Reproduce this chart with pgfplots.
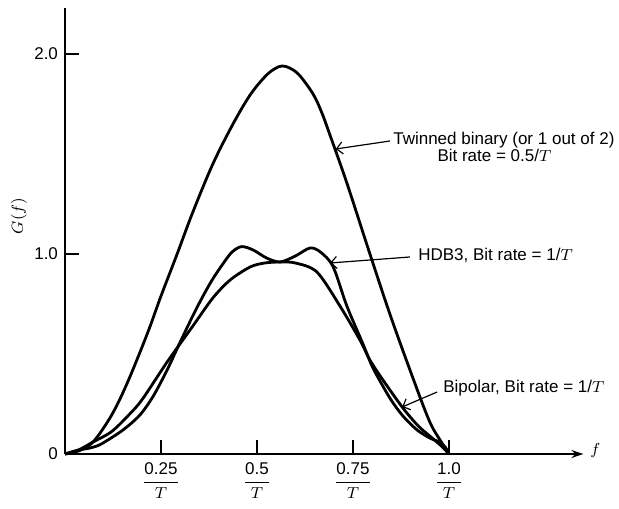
\documentclass[border=0pt]{standalone}
\usepackage{amsmath}
\usepackage{pgfplots}
\pgfplotsset{compat=1.18}
\usepackage{fontspec}
\setmainfont{Liberation Sans}
\usetikzlibrary{arrows.meta}
\begin{document}
\begin{tikzpicture}[font=\fontsize{8.5}{10}\selectfont]
\useasboundingbox (-32.5pt,-27pt) rectangle (277pt,227pt);
\begin{axis}[
  anchor=south west, at={(0,0)},
  x=192pt, y=100pt,
  xmin=0, xmax=1.35, ymin=0, ymax=2.23,
  axis x line=bottom, axis y line=left,
  x axis line style={-{Stealth[length=6pt,width=4pt]}},
  y axis line style={-},
  axis line style={line width=0.9pt},
  xtick={0.25,0.5,0.75,1.0},
  xticklabels={$\dfrac{\mbox{0.25}}{T}$,$\dfrac{\mbox{0.5}}{T}$,$\dfrac{\mbox{0.75}}{T}$,$\dfrac{\mbox{1.0}}{T}$},
  ytick={0,1,2}, yticklabels={0,1.0,2.0},
  tick align=inside, major tick length=7pt,
  tick style={line width=0.9pt, black},
  xticklabel style={yshift=-1pt},
  clip=false,
]
% Twinned binary
\addplot[line width=1.4pt, smooth, tension=0.55] coordinates {
(0,0) (0.035,0.015) (0.073,0.06) (0.12,0.19) (0.161,0.35) (0.214,0.60) (0.25,0.79) (0.292,1.0) (0.333,1.21) (0.385,1.45) (0.4375,1.65) (0.482,1.795) (0.52,1.885) (0.545,1.925) (0.565,1.94) (0.585,1.93) (0.61,1.895) (0.646,1.80) (0.668,1.71) (0.69,1.595) (0.734,1.355) (0.789,1.03) (0.846,0.70) (0.906,0.38) (0.95,0.16) (0.98,0.06) (1.0,0)
};
% HDB3
\addplot[line width=1.4pt, smooth, tension=0.5] coordinates {
(0,0) (0.02,0.012) (0.04,0.022) (0.06,0.028) (0.08,0.038) (0.099,0.055) (0.151,0.12) (0.195,0.195) (0.23,0.29) (0.266,0.42) (0.30,0.56) (0.343,0.73) (0.38,0.86) (0.411,0.95) (0.435,1.01) (0.46,1.037) (0.49,1.02) (0.525,0.98) (0.56,0.96) (0.60,0.99) (0.638,1.03) (0.665,1.01) (0.698,0.937) (0.734,0.74) (0.776,0.55) (0.802,0.43) (0.846,0.28) (0.88,0.19) (0.917,0.12) (0.95,0.08) (0.975,0.06) (0.99,0.035) (1.0,0)
};
% Bipolar
\addplot[line width=1.4pt, smooth, tension=0.5] coordinates {
(0,0) (0.035,0.02) (0.073,0.06) (0.12,0.11) (0.161,0.185) (0.2,0.27) (0.266,0.46) (0.333,0.64) (0.385,0.78) (0.43,0.87) (0.482,0.935) (0.52,0.955) (0.56,0.96) (0.60,0.955) (0.656,0.91) (0.716,0.74) (0.768,0.57) (0.794,0.47) (0.828,0.37) (0.88,0.23) (0.92,0.14) (0.95,0.09) (0.98,0.04) (1.0,0)
};
% annotations
\node[anchor=west, inner sep=0pt] at (axis cs:0.854,1.57) {Twinned binary (or 1 out of 2)};
\node[anchor=west, inner sep=0pt] at (axis cs:0.969,1.495) {Bit rate = 0.5/$T$};
\draw[-{Straight Barb[length=3pt]}, line width=0.6pt] (axis cs:0.846,1.565) -- (axis cs:0.705,1.525);
\node[anchor=west, inner sep=0pt] at (axis cs:0.919,0.995) {HDB3, Bit rate = 1/$T$};
\draw[-{Straight Barb[length=3pt]}, line width=0.6pt] (axis cs:0.898,0.985) -- (axis cs:0.69,0.955);
\node[anchor=west, inner sep=0pt] at (axis cs:0.984,0.33) {Bipolar, Bit rate = 1/$T$};
\draw[-{Straight Barb[length=3pt]}, line width=0.6pt] (axis cs:0.969,0.31) -- (axis cs:0.878,0.235);
\node[anchor=west] at (axis cs:1.35,0.02) {$f$};
\node[rotate=90] at ([xshift=-23pt]axis cs:0,1.19) {$G(f)$};
\end{axis}
\end{tikzpicture}
\end{document}
